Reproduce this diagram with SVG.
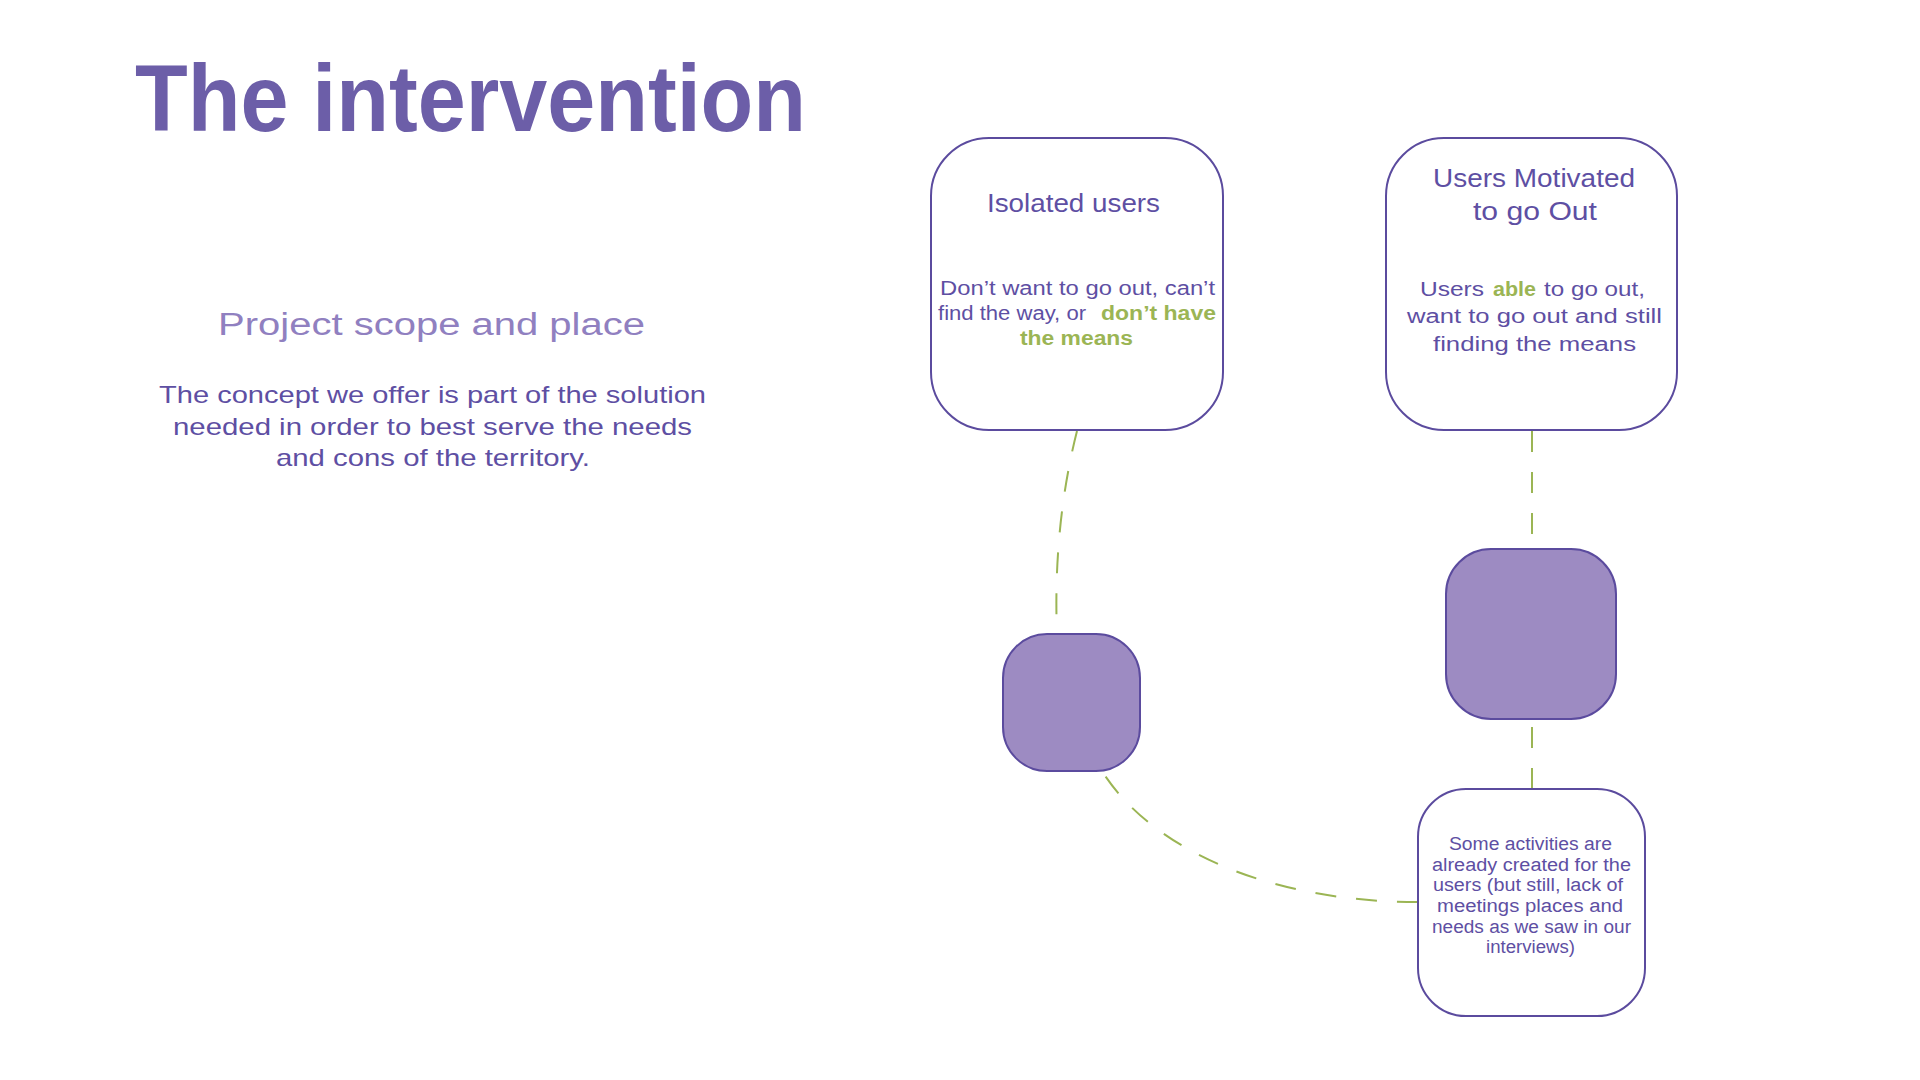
<svg xmlns="http://www.w3.org/2000/svg" width="1920" height="1080" viewBox="0 0 1920 1080">
<style>
text { font-family: "Liberation Sans", Arial, sans-serif; }
.title { font-size: 94px; font-weight: bold; fill: #6c5ea8; }
.sub { font-size: 31px; fill: #9080c0; }
.para { font-size: 24px; fill: #5e4fa3; }
.head { font-size: 26px; fill: #5e4fa3; }
.body { font-size: 20px; fill: #5e4fa3; }
.small { font-size: 18px; fill: #5e4fa3; }
.hl { font-weight: bold; fill: #9bb554; }
.box { fill: #ffffff; stroke: #5b4b9e; stroke-width: 2; }
.pbox { fill: #9d8bc2; stroke: #5b4b9e; stroke-width: 2; }
.conn { fill: none; stroke: #9bb554; stroke-width: 2; stroke-dasharray: 21 20; }
</style>
<rect width="1920" height="1080" fill="#ffffff"/>

<g id="title">
<text class="title" x="135" y="131" textLength="671" lengthAdjust="spacingAndGlyphs">The intervention</text>
</g>

<g id="scope">
<text class="sub" x="218" y="335" textLength="427" lengthAdjust="spacingAndGlyphs">Project scope and place</text>
<text class="para" x="159" y="403" textLength="547" lengthAdjust="spacingAndGlyphs">The concept we offer is part of the solution</text>
<text class="para" x="173" y="435" textLength="519" lengthAdjust="spacingAndGlyphs">needed in order to best serve the needs</text>
<text class="para" x="276" y="466" textLength="314" lengthAdjust="spacingAndGlyphs">and cons of the territory.</text>
</g>

<g id="connectors">
<path class="conn" d="M1077,431 C1062,490 1054,560 1057,634"/>
<path class="conn" d="M1418,902 C1270,902 1150,850 1100,768"/>
<path class="conn" d="M1532,431 L1532,549"/>
<path class="conn" d="M1532,789 L1532,719"/>
</g>

<g id="isolated-users">
<rect class="box" x="931" y="138" width="292" height="292" rx="58" ry="58"/>
<text class="head" x="987" y="212" textLength="173" lengthAdjust="spacingAndGlyphs">Isolated users</text>
<text class="body" x="940" y="295" textLength="275" lengthAdjust="spacingAndGlyphs">Don’t want to go out, can’t</text>
<text class="body" x="938" y="320" textLength="148" lengthAdjust="spacingAndGlyphs">find the way, or</text>
<text class="body hl" x="1101" y="320" textLength="115" lengthAdjust="spacingAndGlyphs">don’t have</text>
<text class="body hl" x="1020" y="345" textLength="113" lengthAdjust="spacingAndGlyphs">the means</text>
</g>

<g id="users-motivated">
<rect class="box" x="1386" y="138" width="291" height="292" rx="58" ry="58"/>
<text class="head" x="1433" y="187" textLength="202" lengthAdjust="spacingAndGlyphs">Users Motivated</text>
<text class="head" x="1473" y="220" textLength="124" lengthAdjust="spacingAndGlyphs">to go Out</text>
<text class="body" x="1420" y="296" textLength="64" lengthAdjust="spacingAndGlyphs">Users</text>
<text class="body hl" x="1493" y="296" textLength="43" lengthAdjust="spacingAndGlyphs">able</text>
<text class="body" x="1544" y="296" textLength="101" lengthAdjust="spacingAndGlyphs">to go out,</text>
<text class="body" x="1407" y="323" textLength="255" lengthAdjust="spacingAndGlyphs">want to go out and still</text>
<text class="body" x="1433" y="351" textLength="203" lengthAdjust="spacingAndGlyphs">finding the means</text>
</g>

<g id="intervention-left">
<rect class="pbox" x="1003" y="634" width="137" height="137" rx="44" ry="44"/>
</g>

<g id="intervention-right">
<rect class="pbox" x="1446" y="549" width="170" height="170" rx="45" ry="45"/>
</g>

<g id="existing-activities">
<rect class="box" x="1418" y="789" width="227" height="227" rx="48" ry="48"/>
<text class="small" x="1449" y="850" textLength="163" lengthAdjust="spacingAndGlyphs">Some activities are</text>
<text class="small" x="1432" y="871" textLength="199" lengthAdjust="spacingAndGlyphs">already created for the</text>
<text class="small" x="1433" y="891" textLength="190" lengthAdjust="spacingAndGlyphs">users (but still, lack of</text>
<text class="small" x="1437" y="912" textLength="186" lengthAdjust="spacingAndGlyphs">meetings places and</text>
<text class="small" x="1432" y="933" textLength="199" lengthAdjust="spacingAndGlyphs">needs as we saw in our</text>
<text class="small" x="1486" y="953" textLength="89" lengthAdjust="spacingAndGlyphs">interviews)</text>
</g>
</svg>
